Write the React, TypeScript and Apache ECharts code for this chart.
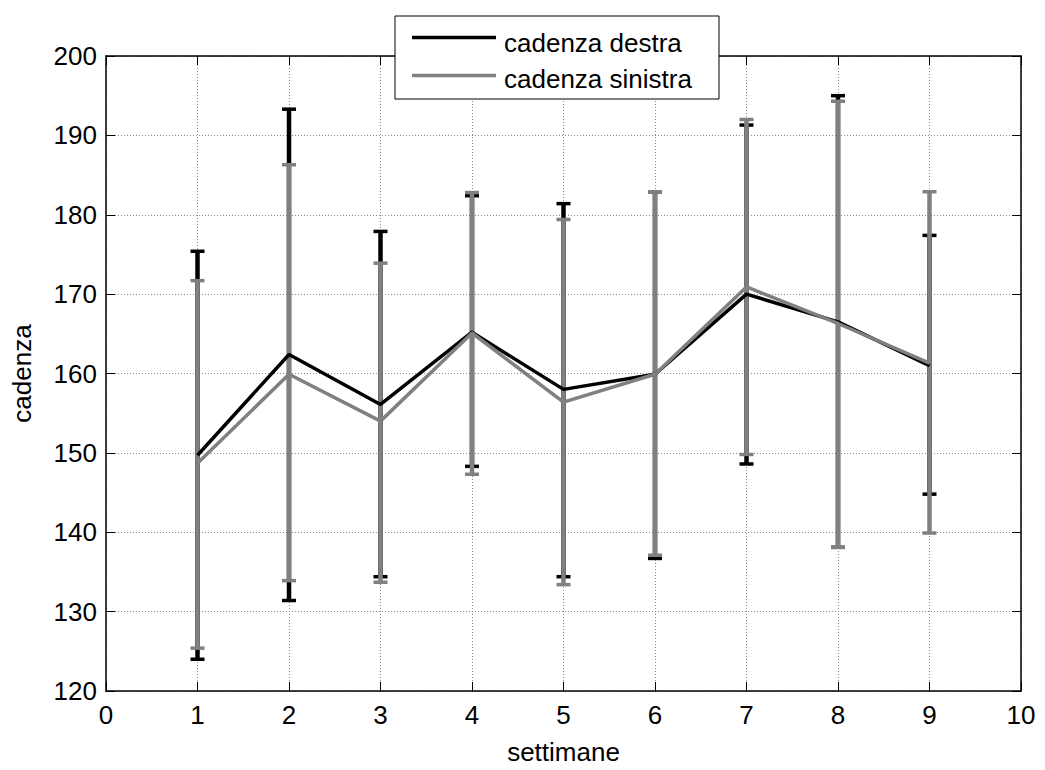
import React, { useEffect, useRef } from "react";
import * as echarts from "echarts";

const weeks = [1, 2, 3, 4, 5, 6, 7, 8, 9];
const destraMean = [149.7, 162.4, 156.1, 165.2, 158.0, 159.9, 170.0, 166.5, 161.0];
const destraLow = [124.0, 131.4, 134.4, 148.3, 134.4, 136.7, 148.6, 138.1, 144.8];
const destraHigh = [175.4, 193.3, 177.9, 182.4, 181.4, 182.9, 191.3, 195.0, 177.4];
const sinistraMean = [148.7, 159.9, 154.0, 165.1, 156.4, 159.9, 170.9, 166.3, 161.3];
const sinistraLow = [125.4, 133.9, 133.7, 147.3, 133.4, 137.1, 149.8, 138.1, 139.9];
const sinistraHigh = [171.7, 186.3, 173.9, 182.8, 179.4, 182.9, 192.0, 194.3, 182.9];
const seriesNames = ["cadenza destra", "cadenza sinistra"];
const xAxisName = "settimane";
const yAxisName = "cadenza";

const FONT = 'Arial, "Liberation Sans", sans-serif';
const FS = 26;
const BLACK = "#000000";
const GREY = "#808080";

function errorBarSeries(name: string, lows: number[], highs: number[], color: string) {
  return {
    name,
    type: "custom",
    xAxisIndex: 0,
    yAxisIndex: 0,
    encode: { x: 0, y: [1, 2] },
    data: weeks.map((w, i) => [w, lows[i], highs[i]]),
    renderItem: (params: any, api: any) => {
      const x = api.value(0);
      const lo = api.coord([x, api.value(1)]);
      const hi = api.coord([x, api.value(2)]);
      const half = 7;
      return {
        type: "group",
        children: [
          {
            type: "line",
            shape: { x1: lo[0], y1: lo[1], x2: hi[0], y2: hi[1] },
            style: { stroke: color, lineWidth: 4.5 },
          },
          {
            type: "line",
            shape: { x1: lo[0] - half, y1: lo[1], x2: lo[0] + half, y2: lo[1] },
            style: { stroke: color, lineWidth: 3.5 },
          },
          {
            type: "line",
            shape: { x1: hi[0] - half, y1: hi[1], x2: hi[0] + half, y2: hi[1] },
            style: { stroke: color, lineWidth: 3.5 },
          },
        ],
      };
    },
  };
}

function lineSeries(name: string, means: number[], color: string) {
  return {
    name,
    type: "line",
    xAxisIndex: 0,
    yAxisIndex: 0,
    symbol: "none",
    data: weeks.map((w, i) => [w, means[i]]),
    lineStyle: { color, width: 3.5 },
    itemStyle: { color },
  };
}

export default function App() {
  const ref = useRef<HTMLDivElement>(null);

  useEffect(() => {
    document.body.style.margin = "0";
    if (!ref.current) return;
    const chart = echarts.init(ref.current, undefined, { renderer: "svg" });

    const gridLine = { show: true, lineStyle: { color: "#8c8c8c", type: [1, 2], width: 1 } };
    const tickStyle = { show: true, inside: true, length: 9, lineStyle: { color: "#000", width: 1 } };
    const axisLineStyle = { show: true, onZero: false, lineStyle: { color: "#000", width: 1.5 } };
    const labelStyle = { color: "#000", fontSize: FS, fontFamily: FONT };

    const option: any = {
      animation: false,
      backgroundColor: "#ffffff",
      grid: { left: 106, top: 56, right: 24, bottom: 69, containLabel: false },
      xAxis: [
        {
          type: "value",
          min: 0,
          max: 10,
          interval: 1,
          position: "bottom",
          axisLine: axisLineStyle,
          axisTick: tickStyle,
          splitLine: gridLine,
          axisLabel: { ...labelStyle, margin: 11 },
          name: xAxisName,
          nameLocation: "middle",
          nameGap: 48,
          nameTextStyle: { color: "#000", fontSize: FS, fontFamily: FONT },
        },
        {
          type: "value",
          min: 0,
          max: 10,
          interval: 1,
          position: "top",
          axisLine: axisLineStyle,
          axisTick: tickStyle,
          splitLine: { show: false },
          axisLabel: { show: false },
        },
      ],
      yAxis: [
        {
          type: "value",
          min: 120,
          max: 200,
          interval: 10,
          position: "left",
          axisLine: axisLineStyle,
          axisTick: tickStyle,
          splitLine: gridLine,
          axisLabel: { ...labelStyle, margin: 9 },
          name: yAxisName,
          nameLocation: "middle",
          nameGap: 71,
          nameRotate: 90,
          nameTextStyle: { color: "#000", fontSize: FS, fontFamily: FONT },
        },
        {
          type: "value",
          min: 120,
          max: 200,
          interval: 10,
          position: "right",
          axisLine: axisLineStyle,
          axisTick: tickStyle,
          splitLine: { show: false },
          axisLabel: { show: false },
        },
      ],
      series: [
        errorBarSeries(seriesNames[0], destraLow, destraHigh, BLACK),
        lineSeries(seriesNames[0], destraMean, BLACK),
        errorBarSeries(seriesNames[1], sinistraLow, sinistraHigh, GREY),
        lineSeries(seriesNames[1], sinistraMean, GREY),
      ],
      graphic: [
        {
          type: "group",
          z: 100,
          children: [
            {
              type: "rect",
              shape: { x: 395, y: 16, width: 324, height: 83 },
              style: { fill: "#ffffff", stroke: "#000", lineWidth: 1 },
              z: 100,
            },
            {
              type: "line",
              shape: { x1: 412, y1: 37.5, x2: 496, y2: 37.5 },
              style: { stroke: BLACK, lineWidth: 3.5 },
              z: 101,
            },
            {
              type: "line",
              shape: { x1: 412, y1: 75.5, x2: 496, y2: 75.5 },
              style: { stroke: GREY, lineWidth: 3.5 },
              z: 101,
            },
            {
              type: "text",
              x: 504,
              y: 43,
              style: {
                text: seriesNames[0],
                fill: "#000",
                font: `${FS}px ${FONT}`,
                verticalAlign: "middle",
                align: "left",
              },
              z: 101,
            },
            {
              type: "text",
              x: 504,
              y: 79,
              style: {
                text: seriesNames[1],
                fill: "#000",
                font: `${FS}px ${FONT}`,
                verticalAlign: "middle",
                align: "left",
              },
              z: 101,
            },
          ],
        },
      ],
    };

    chart.setOption(option);
    return () => chart.dispose();
  }, []);

  return <div ref={ref} style={{ width: 1045, height: 770 }} />;
}
